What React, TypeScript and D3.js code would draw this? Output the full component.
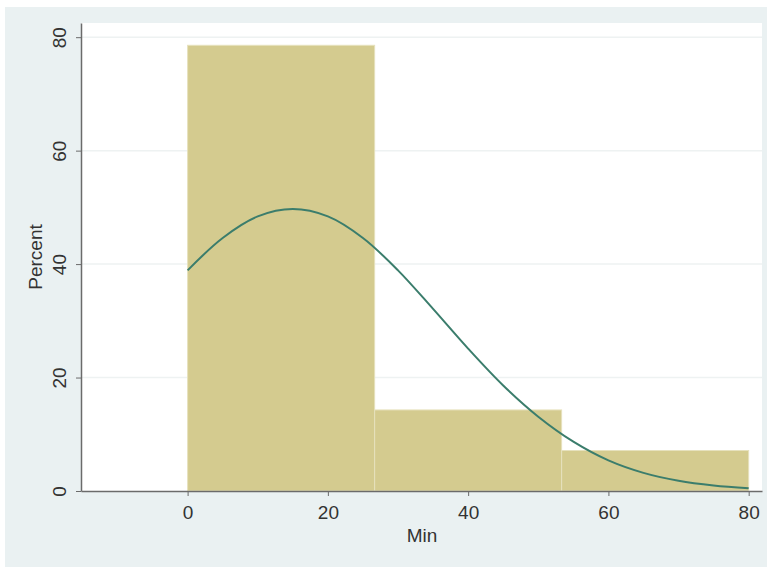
import { useEffect, useRef } from 'react';
import * as d3 from 'd3';

// histogram bins (Min), percent per bin
const binEdges = [0, 26.67, 53.33, 80];
const binPercent = [78.57, 14.29, 7.14];

// normal density overlay, every 5 min
const curveX = [0, 5, 10, 15, 20, 25, 30, 35, 40, 45, 50, 55, 60, 65, 70, 75, 80];
const curveY = [38.9, 44.6, 48.4, 49.7, 48.4, 44.6, 38.9, 32.1, 25.1, 18.6, 13.1, 8.7, 5.4, 3.2, 1.8, 0.97, 0.49];

const xTicks = [0, 20, 40, 60, 80];
const yTicks = [0, 20, 40, 60, 80];

const App = () => {
  const svgRef = useRef(null);

  useEffect(() => {
    const width = 770;
    const height = 567;
    const svg = d3.select(svgRef.current);
    svg.selectAll('*').remove();

    const font = 'Liberation Sans, Arial, sans-serif';
    const fontSize = 19;

    // outer graph region
    svg.append('rect')
      .attr('x', 5).attr('y', 7)
      .attr('width', 762).attr('height', height - 7)
      .attr('fill', '#eaf1f2');

    const x = d3.scaleLinear().domain([-15.2, 81.9]).range([81, 762]);
    const y = d3.scaleLinear().domain([0, 82.5]).range([491, 23]);

    // plot region
    svg.append('rect')
      .attr('x', x.range()[0]).attr('y', y.range()[1])
      .attr('width', x.range()[1] - x.range()[0])
      .attr('height', y.range()[0] - y.range()[1])
      .attr('fill', '#ffffff');

    // gridlines
    svg.selectAll('line.grid')
      .data(yTicks.filter(d => d > 0))
      .enter()
      .append('line')
      .attr('x1', x.range()[0]).attr('x2', x.range()[1])
      .attr('y1', d => y(d)).attr('y2', d => y(d))
      .attr('stroke', '#eef2f2')
      .attr('stroke-width', 1.5);

    // bars
    svg.selectAll('rect.bar')
      .data(binPercent)
      .enter()
      .append('rect')
      .attr('x', (d, i) => x(binEdges[i]))
      .attr('width', (d, i) => x(binEdges[i + 1]) - x(binEdges[i]))
      .attr('y', d => y(d))
      .attr('height', d => y(0) - y(d))
      .attr('fill', '#d4cb8f')
      .attr('stroke', '#e6e1bd')
      .attr('stroke-width', 1);

    // normal curve
    const line = d3.line()
      .x(d => x(d[0]))
      .y(d => y(d[1]))
      .curve(d3.curveCatmullRom);
    svg.append('path')
      .datum(curveX.map((v, i) => [v, curveY[i]]))
      .attr('d', line)
      .attr('fill', 'none')
      .attr('stroke', '#3b7d6c')
      .attr('stroke-width', 2);

    // y axis
    const yAxis = svg.append('g')
      .attr('transform', `translate(${x.range()[0]},0)`)
      .call(d3.axisLeft(y).tickValues(yTicks).tickSize(5).tickSizeOuter(0).tickFormat(d3.format('d')));
    yAxis.select('.domain').attr('stroke', '#6b6b6b').attr('stroke-width', 1.5);
    yAxis.selectAll('.tick line').attr('stroke', '#6b6b6b');
    yAxis.selectAll('.tick text')
      .attr('font-family', font)
      .attr('font-size', fontSize)
      .attr('fill', '#333')
      .attr('x', 0).attr('dy', 0)
      .attr('text-anchor', 'middle')
      .attr('transform', 'translate(-15,0) rotate(-90)');

    // x axis
    const xAxis = svg.append('g')
      .attr('transform', `translate(0,${y.range()[0]})`)
      .call(d3.axisBottom(x).tickValues(xTicks).tickSize(5).tickSizeOuter(0).tickFormat(d3.format('d')));
    xAxis.select('.domain').attr('stroke', '#6b6b6b').attr('stroke-width', 1.5);
    xAxis.selectAll('.tick line').attr('stroke', '#6b6b6b');
    xAxis.selectAll('.tick text')
      .attr('font-family', font)
      .attr('font-size', fontSize)
      .attr('fill', '#333')
      .attr('y', 15)
      .attr('dy', '0.71em');

    // axis titles
    svg.append('text')
      .attr('x', 422).attr('y', 542)
      .attr('text-anchor', 'middle')
      .attr('font-family', font)
      .attr('font-size', fontSize)
      .attr('fill', '#333')
      .text('Min');

    svg.append('text')
      .attr('transform', 'translate(42,257) rotate(-90)')
      .attr('text-anchor', 'middle')
      .attr('font-family', font)
      .attr('font-size', fontSize)
      .attr('fill', '#333')
      .text('Percent');

    svg.attr('width', width).attr('height', height);
  }, []);

  return <svg ref={svgRef} width={770} height={567} style={{ position: 'absolute', left: 0, top: 0 }}></svg>;
};

export default App;
